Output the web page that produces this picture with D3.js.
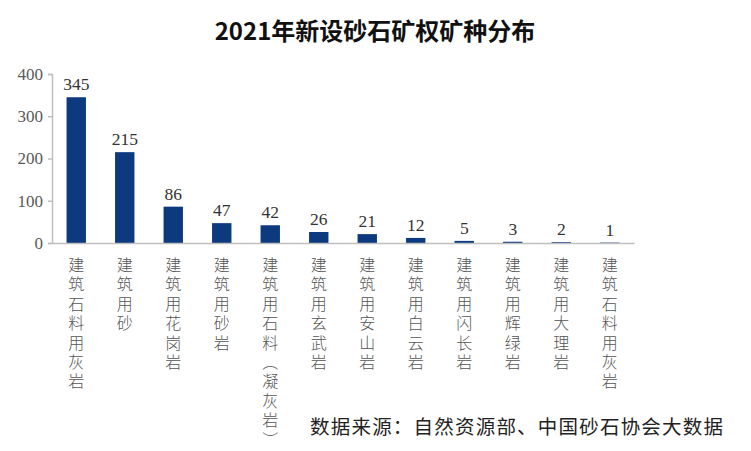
<!DOCTYPE html>
<html><head><meta charset="utf-8">
<script src="https://cdn.jsdelivr.net/npm/d3@7"></script>
<style>body{margin:0;background:#fff}</style>
</head><body>
<svg id="c" width="751" height="451"></svg>
<script>
const categories = ["建筑石料用灰岩","建筑用砂","建筑用花岗岩","建筑用砂岩","建筑用石料（凝灰岩）","建筑用玄武岩","建筑用安山岩","建筑用白云岩","建筑用闪长岩","建筑用辉绿岩","建筑用大理岩","建筑石料用灰岩"];
const values = [345,215,86,47,42,26,21,12,5,3,2,1];
const yTicks = [0,100,200,300,400];
const title = "2021年新设砂石矿权矿种分布";
const source = "数据来源：自然资源部、中国砂石协会大数据";

const svg = d3.select("#c");
const idx = d3.range(categories.length);
const x = d3.scaleBand().domain(idx).range([52,634]).paddingInner(0.6).paddingOuter(0.3);
const y = d3.scaleLinear().domain([0,400]).range([243,74]);
const serif = "'Liberation Serif','DejaVu Serif',serif";
const cjk = "'Noto Sans CJK SC','Noto Sans CJK JP',sans-serif";

svg.append("text").attr("x",375).attr("y",40).attr("text-anchor","middle")
  .attr("font-family",cjk).attr("font-weight","bold").attr("font-size",24).attr("fill","#111").text(title);

// y axis
const ya = svg.append("g").attr("transform","translate(52,0)")
  .call(d3.axisLeft(y).tickValues(yTicks).tickSize(4).tickPadding(5));
ya.select(".domain").attr("stroke","#bfbfbf").attr("stroke-width",1.5);
ya.selectAll(".tick line").attr("stroke","#bfbfbf").attr("stroke-width",1.5);
ya.selectAll(".tick text").attr("font-family",serif).attr("font-size",17).attr("fill","#595959");

// bars
svg.append("g").selectAll("rect").data(values).join("rect")
  .attr("x",(d,i)=>x(i)).attr("width",x.bandwidth())
  .attr("y",d=>y(d)).attr("height",d=>y(0)-y(d))
  .attr("fill","#0d3a7e");

// x axis line
const xa = svg.append("g").attr("transform","translate(0,243)")
  .call(d3.axisBottom(x).tickSize(0).tickFormat(""));
xa.select(".domain").attr("stroke","#bfbfbf").attr("stroke-width",1.5);

// value labels
svg.append("g").selectAll("text").data(values).join("text")
  .attr("x",(d,i)=>x(i)+x.bandwidth()/2).attr("y",d=>y(d)-7)
  .attr("text-anchor","middle").attr("font-family",serif).attr("font-size",17.5).attr("fill","#333")
  .text(d=>d);

// vertical category labels (one text each, vertical writing mode)
svg.append("g").selectAll("text").data(categories).join("text")
  .attr("x",(d,i)=>x(i)+x.bandwidth()/2).attr("y",257)
  .style("writing-mode","vertical-rl").style("text-orientation","upright")
  .attr("font-family",cjk).attr("font-weight",300).attr("font-size",16)
  .attr("letter-spacing",3.4).attr("fill","#555")
  .text(d=>d);

svg.append("text").attr("x",310).attr("y",434).attr("font-family",cjk)
  .attr("font-size",19.5).attr("fill","#222").attr("textLength",413).text(source);
</script>
</body></html>
